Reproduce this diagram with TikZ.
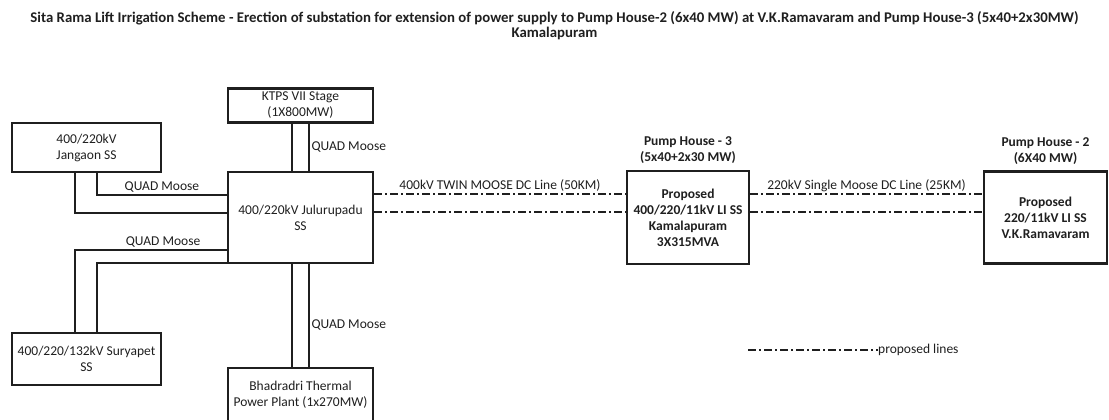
\documentclass[tikz,border=0pt]{standalone}
\usepackage{fontspec}
\setmainfont{Carlito}
\usetikzlibrary{positioning}
\definecolor{ink}{gray}{0.12}
\newcommand{\fTitle}{\fontsize{14.8}{15}\selectfont}
\newcommand{\fText}{\fontsize{13.5}{16}\selectfont}

\begin{document}
\begin{tikzpicture}[x=1pt,y=1pt,
  ss/.style={draw=ink,line width=2.3pt,align=center,inner sep=2pt,text=ink,font=\fText},
  feeder/.style={draw=ink,line width=1.2pt},
  propline/.style={draw=ink,line width=1.3pt,dash pattern=on 8pt off 3pt on 2pt off 3pt},
  lbl/.style={font=\fText,text=ink,inner sep=2pt},
  hdr/.style={font=\fText\bfseries,text=ink,align=center,inner sep=1pt}]
  \useasboundingbox (0,0) rectangle (1109,420);
  \node[font=\fTitle\bfseries,text=ink,align=center] (title) at (554.5,394.5)
    {Sita Rama Lift Irrigation Scheme - Erection of substation for extension of power supply to Pump House-2 (6x40 MW) at V.K.Ramavaram and Pump House-3 (5x40+2x30MW)\\Kamalapuram};
  % substations
  \node[ss,minimum width=145pt,minimum height=91pt] (jul) at (300.5,202.5) {400/220kV Julurupadu\\SS};
  \node[ss,minimum width=145pt,minimum height=34pt] (ktps) at (300.5,314.5) {KTPS VII Stage\\(1X800MW)};
  \node[ss,minimum width=145pt,minimum height=53pt] (bha) at (300.5,25.5) {Bhadradri Thermal\\Power Plant (1x270MW)};
  \node[ss,minimum width=149pt,minimum height=49pt] (jan) at (86.5,272.5) {400/220kV\\Jangaon SS};
  \node[ss,minimum width=149pt,minimum height=52pt] (sur) at (86.5,61) {400/220/132kV Suryapet\\SS};
  \node[ss,font=\fText\bfseries,minimum width=122pt,minimum height=93pt] (ph3) at (688,202.5) {Proposed\\400/220/11kV LI SS\\Kamalapuram\\3X315MVA};
  \node[ss,font=\fText\bfseries,minimum width=123pt,minimum height=92pt] (ph2) at (1045.5,202.5) {Proposed\\220/11kV LI SS\\V.K.Ramavaram};
  \node[hdr,above=5pt of ph3] (ph3h) {Pump House - 3\\(5x40+2x30 MW)};
  \node[hdr,above=5pt of ph2] (ph2h) {Pump House - 2\\(6X40 MW)};
  % existing QUAD Moose lines
  \draw[feeder] ([xshift=-8.5pt]ktps.south) -- ([xshift=-8.5pt]jul.north);
  \draw[feeder] ([xshift=8.5pt]ktps.south) -- ([xshift=8.5pt]jul.north) node[midway,right,lbl] {QUAD Moose};
  \draw[feeder] ([xshift=-8.5pt]jul.south) -- ([xshift=-8.5pt]bha.north);
  \draw[feeder] ([xshift=8.5pt]jul.south) -- ([xshift=8.5pt]bha.north) node[pos=0.59,right,lbl] {QUAD Moose};
  \draw[feeder] ([xshift=10.5pt]jan.south) |- ([yshift=22.5pt]jul.west) node[pos=0.75,above,lbl] {QUAD Moose};
  \draw[feeder] ([xshift=-11.5pt]jan.south) |- ([yshift=4.5pt]jul.west);
  \draw[feeder] ([xshift=-11.5pt]sur.north) |- ([yshift=-32.5pt]jul.west) node[pos=0.79,above,lbl] {QUAD Moose};
  \draw[feeder] ([xshift=10.5pt]sur.north) |- ([yshift=-45.5pt]jul.west);
  % proposed lines
  \draw[propline] ([yshift=23.5pt]jul.east) -- ([yshift=23.5pt]ph3.west) node[midway,above,lbl] {400kV TWIN MOOSE DC Line (50KM)};
  \draw[propline] ([yshift=5.5pt]jul.east) -- ([yshift=5.5pt]ph3.west);
  \draw[propline] ([yshift=23.5pt]ph3.east) -- ([yshift=23.5pt]ph2.west) node[midway,above,lbl] {220kV Single Moose DC Line (25KM)};
  \draw[propline] ([yshift=5.5pt]ph3.east) -- ([yshift=5.5pt]ph2.west);
  % legend
  \node[lbl,anchor=west,inner sep=0pt] (leg) at (878,70) {proposed lines};
  \coordinate (legs) at (748,70);
  \draw[propline] (legs) -- (leg.west);
\end{tikzpicture}
\end{document}
